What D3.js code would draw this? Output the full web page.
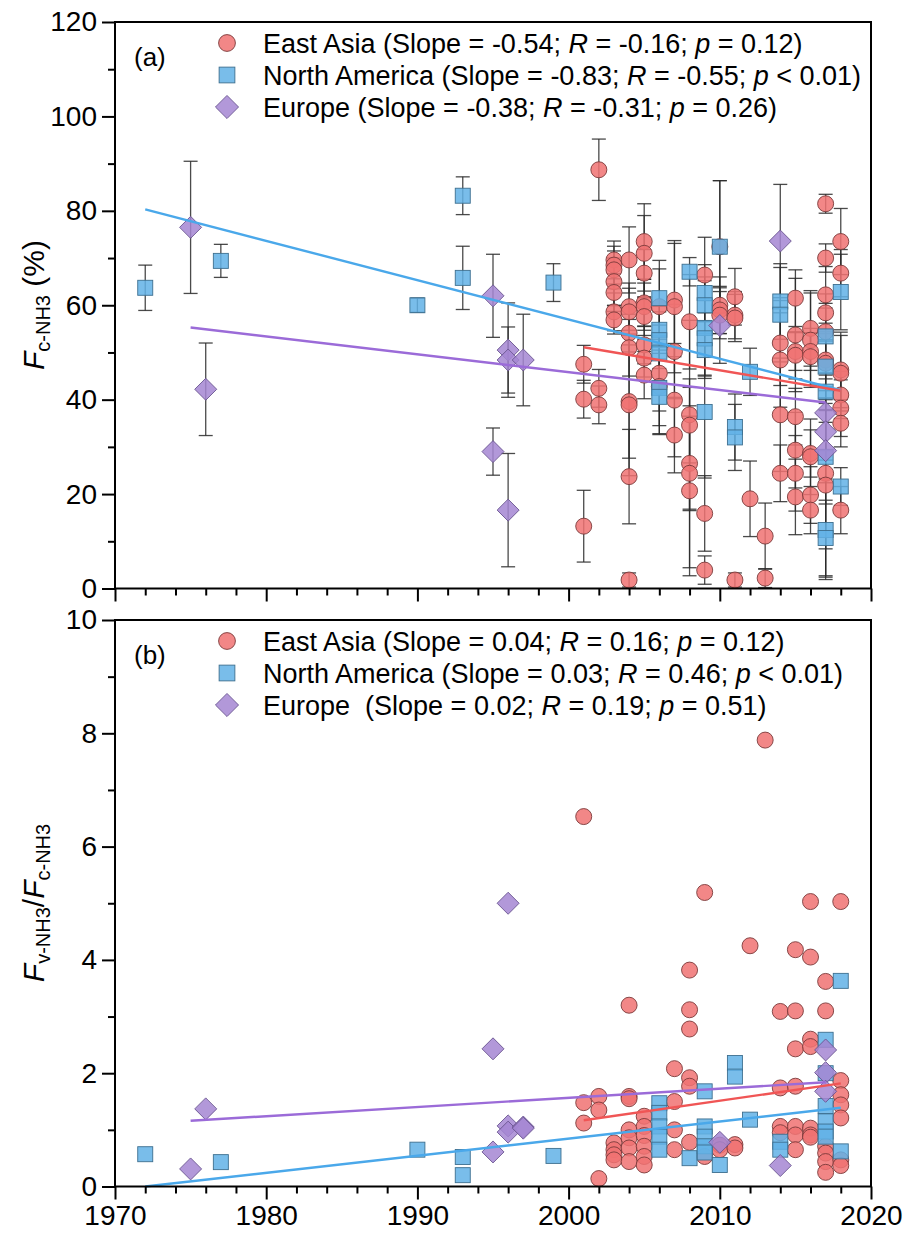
<!DOCTYPE html>
<html><head><meta charset="utf-8">
<script src="https://cdn.jsdelivr.net/npm/d3@7"></script>
<style>body{margin:0;background:#fff}svg{display:block;font-family:"Liberation Sans",Arial,sans-serif}
.tk{font-family:"Liberation Sans Narrow","Arial Narrow","Liberation Sans",sans-serif}</style>
</head><body><svg id="c" width="906" height="1238"></svg>
<script>
// ---------- DATA ----------
// Panel (a): F_c-NH3 (%) with errors
const eaYearA = [2001,2001,2001, 2002,2002,2002, 2003,2003,2003,2003,2003,2003,2003,
 2004,2004,2004,2004,2004,2004,2004,2004,2004, 2005,2005,2005,2005,2005,2005,2005,2005,2005,
 2006,2006,2006, 2007,2007,2007,2007,2007, 2008,2008,2008,2008,2008,2008, 2009,2009,2009,
 2010,2010,2010,2010, 2011,2011,2011,2011, 2012, 2013,2013, 2014,2014,2014,2014,
 2015,2015,2015,2015,2015,2015,2015,2015, 2016,2016,2016,2016,2016,2016,2016,2016,
 2017,2017,2017,2017,2017,2017,2017,2017,2017, 2018,2018,2018,2018,2018,2018,2018,2018];
const eaValA = [47.5,40.1,13.2, 88.7,42.4,38.9, 69.6,68.5,67.5,65,62.7,58.6,56.9,
 69.6,59.7,58.6,54.1,51,39.6,38.9,23.7,1.8, 73.5,71,66.8,60.5,59.7,57.6,51.6,48.8,45.2,
 59.7,45.6,42.8, 61.1,59.7,50.2,39.9,32.5, 56.5,36.8,34.6,26.5,24.4,20.7, 66.4,15.9,3.9,
 72.4,60,59,57.9, 61.8,57.9,57.3,1.8, 19, 11.1,2.2, 52,48.4,36.8,24.4,
 61.5,53.7,50.2,49.4,36.4,29.3,24.4,19.4, 55.1,52.6,50.2,49.1,28.6,27.9,19.8,16.6,
 81.5,70,62.2,58.4,54.4,48.4,47.7,24.4,21.9, 73.5,66.8,46.3,45.6,41,38.2,35,16.6];
const eaErrA = [4,4,7.6, 6.5,4,4, 4,4,4,5,4,4,3,
 7,5,5,4,6,12,15,10,1.5, 8,8,5,5,5,4,4,4,5,
 8,8,10, 12,14,10,12,8, 10,20,8,10,20,18, 8,8,3,
 14,6,5,5, 6,5,5,1.5, 8, 7,2, 9,10,12,6,
 6,12,4,5,6,8,8,8, 8,10,4,6,5,8,6,5,
 2,3,6,4,6,4,5,16,20, 7,5,8,8,5,6,5,5];

const naYearA = [1972,1977,1990,1993,1993,1999, 2006,2006,2006,2006,2006,2006, 2008,
 2009,2009,2009,2009,2009,2009, 2010, 2011,2011, 2012, 2014,2014,
 2017,2017,2017,2017,2017,2017, 2018,2018];
const naValA = [63.7,69.4,60,83.2,65.8,64.8, 61.5,54.8,52.6,49.8,42.5,40.6, 67.1,
 62.6,60,55.2,53,50.5,37.4, 72.4, 34.2,32, 45.9, 60.8,58,
 53.4,47,41.7,27.9,12.4,10.7, 62.8,21.6];
const naErrA = [4.8,3.5,1.5,4,6.7,4, 8,5,6,6,8,8, 3,
 6,6,10,8,6,14, 14, 7,7, 5, 8,10,
 6,7,4,10,10,8, 8,4];

const euYearA = [1975,1976,1995,1995,1996,1996,1996,1997,2010,2014,2017,2017,2017];
const euValA  = [76.5,42.2,62,29,50.5,48.4,16.6,48.4,55.7,73.6,37.2,33.2,29.2];
const euErrA  = [14,9.8,8.8,5,10,7,12,9.7,8,12,8,6,6];

// Panel (b): F_v-NH3 / F_c-NH3
const eaYearB = [2001,2001,2001, 2002,2002,2002, 2003,2003,2003,2003,
 2004,2004,2004,2004,2004,2004,2004, 2005,2005,2005,2005,2005,2005,
 2007,2007,2007,2007, 2008,2008,2008,2008,2008,2008, 2009,2009, 2010,2010, 2011,2011,
 2012, 2013, 2014,2014,2014,2014, 2015,2015,2015,2015,2015,2015,2015,
 2016,2016,2016,2016,2016,2016,2016, 2017,2017,2017,2017,2017,2017,
 2018,2018,2018,2018,2018,2018,2018];
const eaValB = [6.53,1.48,1.12, 1.59,1.35,0.14, 0.77,0.65,0.56,0.47,
 3.2,1.59,1.55,1.0,0.86,0.68,0.44, 1.24,1.06,0.9,0.71,0.53,0.38,
 2.08,1.5,1.0,0.65, 3.82,3.12,2.78,1.92,1.77,0.78, 5.19,0.53, 0.73,0.65, 0.74,0.68,
 4.25, 7.88, 3.09,1.74,1.06,0.95, 4.18,3.1,2.43,1.77,1.06,0.91,0.65,
 5.03,4.05,2.6,2.47,1.03,0.91,0.87, 3.62,3.1,0.71,0.59,0.44,0.25,
 5.03,1.87,1.62,1.44,1.21,0.47,0.37];

const naYearB = [1972,1977,1990,1993,1993,1999, 2006,2006,2006,2006,2006, 2008,
 2009,2009,2009,2009,2009, 2010, 2011,2011, 2012, 2014,2014,
 2017,2017,2017,2017,2017,2017, 2018,2018];
const naValB = [0.57,0.43,0.65,0.52,0.2,0.54, 1.47,1.3,1.06,0.88,0.65, 0.5,
 1.68,1.06,0.88,0.71,0.6, 0.38, 2.18,1.94, 1.18, 0.79,0.65,
 2.59,2.0,1.42,1.15,0.97,0.88, 3.63,0.62];

const euYearB = [1975,1976,1995,1995,1996,1996,1996,1997,1997,2010,2014,2017,2017,2017];
const euValB  = [0.31,1.37,2.43,0.61,5.0,1.07,0.96,1.05,1.03,0.78,0.37,2.41,2.01,1.68];

// Fitted trend lines: [startYear, startValue, endYear, endValue]
const eaFitA = [2001, 51.1, 2018, 41.9];
const naFitA = [1972, 80.3, 2018, 42.0];
const euFitA = [1975, 55.3, 2017, 39.4];
const eaFitB = [2001, 1.17, 2018, 1.82];
const naFitB = [1972, 0.0, 2018, 1.39];
const euFitB = [1975, 1.16, 2017, 1.84];

// Legends
const seriesNames = ["East Asia", "North America", "Europe"];
const legendA = [
  ["East Asia (Slope = -0.54; ", "R", " = -0.16; ", "p", " = 0.12)"],
  ["North America (Slope = -0.83; ", "R", " = -0.55; ", "p", " < 0.01)"],
  ["Europe (Slope = -0.38; ", "R", " = -0.31; ", "p", " = 0.26)"]
];
const legendB = [
  ["East Asia (Slope = 0.04; ", "R", " = 0.16; ", "p", " = 0.12)"],
  ["North America (Slope = 0.03; ", "R", " = 0.46; ", "p", " < 0.01)"],
  ["Europe\u00a0 (Slope = 0.02; ", "R", " = 0.19; ", "p", " = 0.51)"]
];
const xTicks = [1970,1980,1990,2000,2010,2020];
const yTicksA = [0,20,40,60,80,100,120];
const yTicksB = [0,2,4,6,8,10];

// ---------- DRAW ----------
const svg = d3.select("#c");
const L = 115, R = 871;
const x = d3.scaleLinear().domain([1970,2020]).range([L,R]);
const ya = d3.scaleLinear().domain([0,120]).range([588.5,22]);
const yb = d3.scaleLinear().domain([0,10]).range([1186.5,620]);

const col = {
  ea:{fill:"#f07272", stroke:"#7a3a3a", line:"#f05555"},
  na:{fill:"#62b2e6", stroke:"#3d6f8f", line:"#4aa8ea"},
  eu:{fill:"#a486d2", stroke:"#6a5590", line:"#9b6bd8"}
};

function zip(ys, vs, es){ return ys.map((yr,i)=>({yr, v:vs[i], e: es?es[i]:0})); }

function marker(g, type, cx, cy, c, s){
  s = s||1;
  if(type==="ea") g.append("circle").attr("cx",cx).attr("cy",cy).attr("r",8*s)
     .attr("fill",c.fill).attr("fill-opacity",0.85).attr("stroke",c.stroke).attr("stroke-width",0.9);
  else if(type==="na") g.append("rect").attr("x",cx-7.5*s).attr("y",cy-7.5*s).attr("width",15*s).attr("height",15*s)
     .attr("fill",c.fill).attr("fill-opacity",0.85).attr("stroke",c.stroke).attr("stroke-width",0.9);
  else { const h=11*s; g.append("path").attr("d",`M${cx},${cy-h}L${cx+h},${cy}L${cx},${cy+h}L${cx-h},${cy}Z`)
     .attr("fill",c.fill).attr("fill-opacity",0.85).attr("stroke",c.stroke).attr("stroke-width",0.9); }
}

function panel(y, yTicks, minorStep, top, bottom, sets, fits, legend, tag, showX){
  const g = svg.append("g");
  const eb = g.append("g").attr("stroke","#2a2a2a").attr("stroke-width",1.3).attr("stroke-opacity",0.85);
  sets.forEach(s=>{
    s.data.forEach(d=>{
      if(!d.e) return;
      const lo = Math.max(0, d.v-d.e), hi = d.v+d.e;
      eb.append("line").attr("x1",x(d.yr)).attr("x2",x(d.yr)).attr("y1",y(lo)).attr("y2",y(hi));
      [lo,hi].forEach(t=>eb.append("line").attr("x1",x(d.yr)-7).attr("x2",x(d.yr)+7).attr("y1",y(t)).attr("y2",y(t)));
    });
  });
  sets.forEach(s=>{
    const mg = g.append("g");
    s.data.forEach(d=>marker(mg, s.key, x(d.yr), y(d.v), col[s.key]));
  });
  fits.forEach(f=>{
    g.append("line").attr("x1",x(f.p[0])).attr("y1",y(f.p[1])).attr("x2",x(f.p[2])).attr("y2",y(f.p[3]))
      .attr("stroke",col[f.key].line).attr("stroke-width",2.4);
  });
  g.append("rect").attr("x",L).attr("y",top).attr("width",R-L).attr("height",bottom-top)
    .attr("fill","none").attr("stroke","#000").attr("stroke-width",2);
  const [y0,y1] = y.domain();
  const minorY = d3.range(y0, y1+1e-9, minorStep).filter(v=>!yTicks.includes(v));
  const ay = d3.axisLeft(y).tickValues(yTicks).tickSize(13).tickSizeOuter(0).tickPadding(5);
  const gy = g.append("g").attr("transform",`translate(${L},0)`).call(ay);
  gy.select(".domain").remove();
  gy.selectAll(".tick line").attr("stroke-width",2);
  gy.selectAll(".tick text").attr("class","tk").attr("font-size",28).attr("fill","#000");
  g.append("g").attr("transform",`translate(${L},0)`)
    .call(d3.axisLeft(y).tickValues(minorY).tickSize(7).tickFormat("")).call(a=>a.select(".domain").remove())
    .selectAll("line").attr("stroke-width",2);
  const minorX = d3.range(1970,2021,2).filter(v=>!xTicks.includes(v));
  const ax = d3.axisBottom(x).tickValues(xTicks).tickSize(13).tickSizeOuter(0).tickPadding(6)
     .tickFormat(showX ? d3.format("d") : "");
  const gx = g.append("g").attr("transform",`translate(0,${bottom})`).call(ax);
  gx.select(".domain").remove();
  gx.selectAll(".tick line").attr("stroke-width",2);
  gx.selectAll(".tick text").attr("class","tk").attr("font-size",28).attr("fill","#000");
  g.append("g").attr("transform",`translate(0,${bottom})`)
    .call(d3.axisBottom(x).tickValues(minorX).tickSize(7).tickFormat("")).call(a=>a.select(".domain").remove())
    .selectAll("line").attr("stroke-width",2);
  g.append("text").attr("x",134).attr("y",top+44).attr("font-size",26).text(tag);
  const keys = ["ea","na","eu"];
  legend.forEach((parts,i)=>{
    const ly = top + 21 + i*32;
    marker(g, keys[i], 227, ly, col[keys[i]], 1.05);
    const t = g.append("text").attr("x",263).attr("y",ly+9.5).attr("font-size",27);
    parts.forEach((p,j)=>t.append("tspan").text(p).attr("font-style", (j===1||j===3)?"italic":null));
  });
}

panel(ya, yTicksA, 10, 22, 588.5,
  [{key:"ea",data:zip(eaYearA,eaValA,eaErrA)},{key:"na",data:zip(naYearA,naValA,naErrA)},{key:"eu",data:zip(euYearA,euValA,euErrA)}],
  [{key:"na",p:naFitA},{key:"eu",p:euFitA},{key:"ea",p:eaFitA}], legendA, "(a)", false);
panel(yb, yTicksB, 1, 620, 1186.5,
  [{key:"ea",data:zip(eaYearB,eaValB)},{key:"na",data:zip(naYearB,naValB)},{key:"eu",data:zip(euYearB,euValB)}],
  [{key:"na",p:naFitB},{key:"eu",p:euFitB},{key:"ea",p:eaFitB}], legendB, "(b)", true);

const t1 = svg.append("text").attr("transform","translate(44,305) rotate(-90)").attr("text-anchor","middle").attr("font-size",30);
t1.append("tspan").attr("font-style","italic").text("F");
t1.append("tspan").attr("font-size",20).attr("dy",6).text("c-NH3");
t1.append("tspan").attr("dy",-6).text(" (%)");
const t2 = svg.append("text").attr("transform","translate(44,903) rotate(-90)").attr("text-anchor","middle").attr("font-size",30);
t2.append("tspan").attr("font-style","italic").text("F");
t2.append("tspan").attr("font-size",20).attr("dy",6).text("v-NH3");
t2.append("tspan").attr("dy",-6).text("/");
t2.append("tspan").attr("font-style","italic").text("F");
t2.append("tspan").attr("font-size",20).attr("dy",6).text("c-NH3");
</script></body></html>
